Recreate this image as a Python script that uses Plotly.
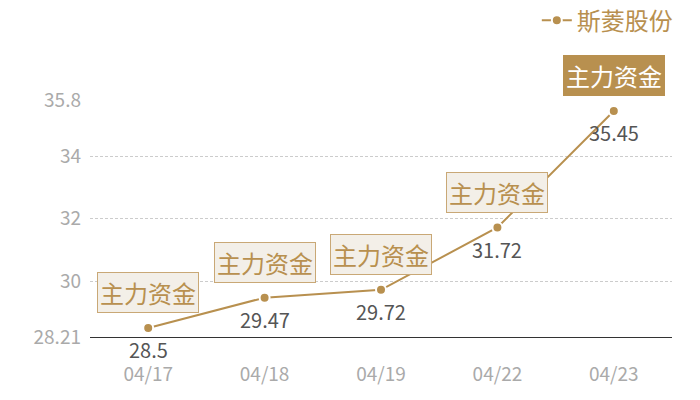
import plotly.graph_objects as go

dates = ["04/17", "04/18", "04/19", "04/22", "04/23"]
values = [28.5, 29.47, 29.72, 31.72, 35.45]
value_labels = ["28.5", "29.47", "29.72", "31.72", "35.45"]
tag_text = "主力资金"
series_name = "斯菱股份"
y_ticks = [28.21, 30, 32, 34, 35.8]
y_tick_labels = ["28.21", "30", "32", "34", "35.8"]

GOLD = "#b8904f"
FONT = "Noto Sans CJK SC"

fig = go.Figure()
fig.add_trace(go.Scatter(
    x=dates, y=values, mode="lines+markers", name=series_name,
    line=dict(color=GOLD, width=2),
    marker=dict(size=10, color=GOLD, line=dict(color="white", width=2)),
    hoverinfo="skip",
))

annotations = []
for i, (d, v, lab) in enumerate(zip(dates, values, value_labels)):
    last = i == len(dates) - 1
    annotations.append(dict(
        x=d, y=v, xref="x", yref="y", text=tag_text, showarrow=False,
        yshift=35, font=dict(family=FONT, size=24, color="white" if last else GOLD),
        bgcolor=GOLD if last else "#f3efe8", bordercolor=GOLD if last else "#c9a876",
        borderwidth=1, borderpad=2,
    ))
    annotations.append(dict(
        x=d, y=v, xref="x", yref="y", text=lab, showarrow=False,
        yshift=-22, font=dict(family=FONT, size=20, color="#555555"),
    ))

# page body has an 8px margin, so the figure is drawn 8px smaller
fig.update_layout(
    width=692, height=392,
    margin=dict(l=82, r=28, t=92, b=63, autoexpand=False),
    paper_bgcolor="white", plot_bgcolor="white",
    font=dict(family=FONT),
    showlegend=True,
    legend=dict(x=1.01, xanchor="right", y=1.43, yanchor="top",
                font=dict(family=FONT, size=24, color=GOLD),
                bgcolor="rgba(0,0,0,0)", itemwidth=30),
    annotations=annotations,
    xaxis=dict(
        range=[-0.5, 4.5],
        showgrid=False, showline=True, linecolor="#333333", linewidth=1,
        tickfont=dict(family=FONT, size=19, color="#aaaaaa"),
        ticks="", ticklabelstandoff=20, zeroline=False,
    ),
    yaxis=dict(
        range=[28.21, 35.8], tickvals=y_ticks, ticktext=y_tick_labels,
        showgrid=True, gridcolor="#cccccc", griddash="3px,2px", gridwidth=1,
        tickfont=dict(family=FONT, size=19, color="#aaaaaa"),
        ticks="", ticklabelstandoff=8, zeroline=False, showline=False,
    ),
)

fig.write_html("out.html")
